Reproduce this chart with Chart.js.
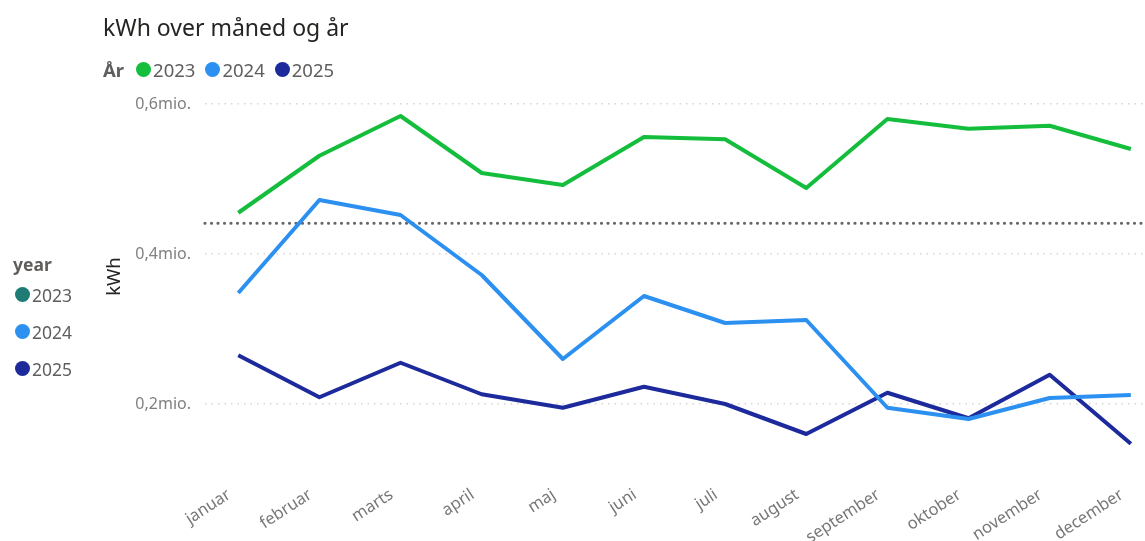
<!DOCTYPE html>
<html>
<head>
<meta charset="utf-8">
<script src="https://cdn.jsdelivr.net/npm/chart.js@4/dist/chart.umd.min.js"></script>
<style>
  body { margin: 0; background: #fff; font-family: "Noto Sans", "Open Sans", sans-serif; }
  #wrap { position: relative; width: 1145px; height: 541px; }
  #title { position: absolute; left: 103px; top: 11px; font-size: 23px; color: #252423; }
  #topLegend { position: absolute; left: 103px; top: 57px; font-size: 18.5px; color: #605e5c; display: flex; align-items: center; }
  #topLegend b { margin-right: 12px; }
  #topLegend .item { display: flex; align-items: center; margin-right: 10px; }
  #sideLegend { position: absolute; left: 13px; top: 252px; font-size: 17.5px; color: #605e5c; }
  #sideLegend .item { display: flex; align-items: center; height: 37px; margin-left: 2px; }
  .dot { display: inline-block; width: 15px; height: 15px; border-radius: 50%; margin-right: 2px; }
</style>
</head>
<body>
<div id="wrap">
  <canvas id="myChart" width="1145" height="541"></canvas>
  <div id="title">kWh over måned og år</div>
  <div id="topLegend"><b>År</b></div>
  <div id="sideLegend"><b>year</b></div>
</div>
<script>
// Month labels on the x axis
const months = ['januar', 'februar', 'marts', 'april', 'maj', 'juni', 'juli', 'august', 'september', 'oktober', 'november', 'december'];

// kWh per month for each year
const kwh2023 = [455000, 531000, 584000, 508000, 492000, 556000, 553000, 488000, 580000, 567000, 571000, 540000];
const kwh2024 = [348000, 472000, 452000, 372000, 260000, 344000, 308000, 312000, 195000, 180000, 208000, 212000];
const kwh2025 = [265000, 209000, 255000, 213000, 195000, 223000, 200000, 160000, 215000, 181000, 239000, 147000];

// Dotted reference line
const refLine = 441000;

// y axis ticks
const yTicks = [200000, 400000, 600000];

const years = ['2023', '2024', '2025'];
const lineColors = ['#14be3c', '#2b90f0', '#1c2a9c'];
const sideColors = ['#1e7b75', '#2b90f0', '#1c2a9c'];

// Build the legends
const topLegend = document.getElementById('topLegend');
const sideLegend = document.getElementById('sideLegend');
years.forEach((y, i) => {
  topLegend.insertAdjacentHTML('beforeend', `<span class="item"><span class="dot" style="background:${lineColors[i]}"></span>${y}</span>`);
  sideLegend.insertAdjacentHTML('beforeend', `<div class="item"><span class="dot" style="background:${sideColors[i]}"></span>${y}</div>`);
});

const toPoints = arr => arr.map((v, i) => ({ x: i, y: v }));

// Plugin drawing the dotted reference line
const refLinePlugin = {
  id: 'refLine',
  beforeDatasetsDraw(chart) {
    const ctx = chart.ctx;
    const y = chart.scales.y.getPixelForValue(refLine);
    ctx.save();
    ctx.strokeStyle = '#666';
    ctx.lineWidth = 3.2;
    ctx.lineCap = 'round';
    ctx.setLineDash([0, 6.5]);
    ctx.beginPath();
    ctx.moveTo(chart.chartArea.left, y);
    ctx.lineTo(chart.chartArea.right, y);
    ctx.stroke();
    ctx.restore();
  }
};

var ctx = document.getElementById('myChart').getContext('2d');

var chart = new Chart(ctx, {
  type: 'line',
  data: {
    datasets: [
      { label: '2023', data: toPoints(kwh2023), borderColor: lineColors[0] },
      { label: '2024', data: toPoints(kwh2024), borderColor: lineColors[1] },
      { label: '2025', data: toPoints(kwh2025), borderColor: lineColors[2] }
    ]
  },
  options: {
    responsive: false,
    animation: false,
    layout: { padding: { top: 89, left: 101, right: 2, bottom: 0 } },
    elements: {
      line: { borderWidth: 4, tension: 0, borderJoinStyle: 'round' },
      point: { radius: 0 }
    },
    plugins: { legend: { display: false }, tooltip: { enabled: false } },
    scales: {
      x: {
        type: 'linear',
        min: -0.41,
        max: 11.15,
        grid: { display: false, drawTicks: false },
        border: { display: false },
        afterFit: s => { s.height = 77; s.paddingLeft = 0; s.paddingRight = 0; },
        ticks: {
          stepSize: 1,
          includeBounds: false,
          autoSkip: false,
          minRotation: 33,
          maxRotation: 33,
          padding: 21,
          labelOffset: -9,
          color: '#777',
          font: { family: 'Noto Sans', size: 16.5 },
          callback: v => Number.isInteger(v) ? months[v] : ''
        }
      },
      y: {
        min: 120000,
        max: 620000,
        afterFit: s => { s.width = 104; s.paddingTop = 0; s.paddingBottom = 0; },
        afterBuildTicks: s => { s.ticks = yTicks.map(v => ({ value: v })); },
        grid: { color: '#d6d6d6', lineWidth: 1.5, drawTicks: false },
        border: { display: false, dash: [1.5, 5] },
        title: {
          display: true,
          text: 'kWh',
          color: '#252423',
          font: { family: 'Noto Sans', size: 18.5 },
          padding: { top: 3, bottom: 4 }
        },
        ticks: {
          padding: 14,
          color: '#808080',
          font: { family: 'Noto Sans', size: 16 },
          callback: v => (v / 1e6).toFixed(1).replace('.', ',') + 'mio.'
        }
      }
    }
  },
  plugins: [refLinePlugin]
});
</script>
</body>
</html>
